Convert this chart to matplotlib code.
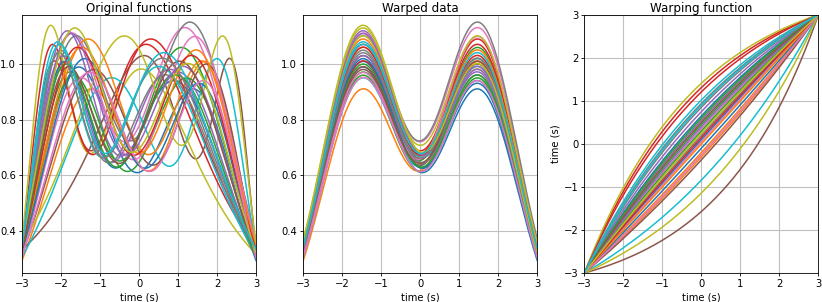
import numpy as np
import matplotlib
matplotlib.use("Agg")
import matplotlib.pyplot as plt

# per-curve values
# warp_mid: value of the warping function at t = 0
warp_mid = [0.10, -0.30, 0.45, 1.31, 0.55, -1.57, 0.35, 0.20, 1.41, -0.84,
            0.65, -0.20, 0.30, 1.21, 0.75, -0.37, 0.05, 0.85, -1.14, 1.02,
            -0.10, 0.00, 0.60, 0.15, 0.40, 0.50, -0.25, 0.94, 0.25, 0.90]
# heights of the left and right bumps of the warped data
left_peak = [0.98, 0.90, 0.96, 1.06, 1.11, 1.02, 1.10, 1.09, 1.13, 0.94,
             1.00, 1.08, 0.95, 1.00, 1.02, 0.97, 0.94, 1.04, 1.09, 1.07,
             1.01, 1.05, 0.99, 1.05, 1.10, 0.98, 0.96, 1.03, 1.12, 1.06]
right_peak = [0.90, 1.00, 1.05, 1.06, 0.96, 1.01, 1.12, 1.14, 0.97, 1.01,
              0.93, 1.00, 0.94, 1.08, 0.97, 0.99, 1.09, 0.95, 1.09, 0.98,
              0.92, 1.04, 0.95, 1.02, 0.98, 1.00, 0.93, 1.01, 0.99, 1.03]

t = np.linspace(-3, 3, 201)


def bumps(s, a, b):
    return a * np.exp(-(s + 1.5) ** 2 / 2) + b * np.exp(-(s - 1.5) ** 2 / 2)


def warp(t, g0):
    # exponential warp through (-3,-3), (0,g0), (3,3)
    c = 2 * np.log(6 / (g0 + 3) - 1)
    u = (t + 3) / 6
    if abs(c) < 1e-6:
        return t
    return 6 * (np.exp(c * u) - 1) / (np.exp(c) - 1) - 3


plt.rcParams["font.size"] = 7.2
plt.rcParams["grid.color"] = "#c0c0c0"
fig = plt.figure(figsize=(8.22, 3.02), dpi=100)
ax1 = fig.add_axes([0.0268, 0.096, 0.2846, 0.855])
ax2 = fig.add_axes([0.369, 0.096, 0.2846, 0.855])
ax3 = fig.add_axes([0.711, 0.096, 0.2846, 0.855])

for g0, a, b in zip(warp_mid, left_peak, right_peak):
    gam = warp(t, g0)
    ax1.plot(t, bumps(gam, a, b), lw=1.1)
    ax2.plot(t, bumps(t, a, b), lw=1.1)
    ax3.plot(t, gam, lw=1.1)

for ax, title in zip([ax1, ax2, ax3],
                     ["Original functions", "Warped data", "Warping function"]):
    ax.set_title(title, fontsize=8.6, pad=2)
    ax.set_xlabel("time (s)", labelpad=2)
    ax.set_xlim(-3, 3)
    ax.set_xticks([-3, -2, -1, 0, 1, 2, 3])
    ax.grid(True, lw=0.8)
    ax.tick_params(length=2.5, width=0.6, pad=2)
    for sp in ax.spines.values():
        sp.set_linewidth(0.6)

ax1.set_ylim(0.247, 1.179)
ax2.set_ylim(0.247, 1.179)
ax1.set_yticks([0.4, 0.6, 0.8, 1.0])
ax2.set_yticks([0.4, 0.6, 0.8, 1.0])
ax3.set_ylim(-3, 3)
ax3.set_ylabel("time (s)", labelpad=2)

fig.savefig("out.png", dpi=100)
